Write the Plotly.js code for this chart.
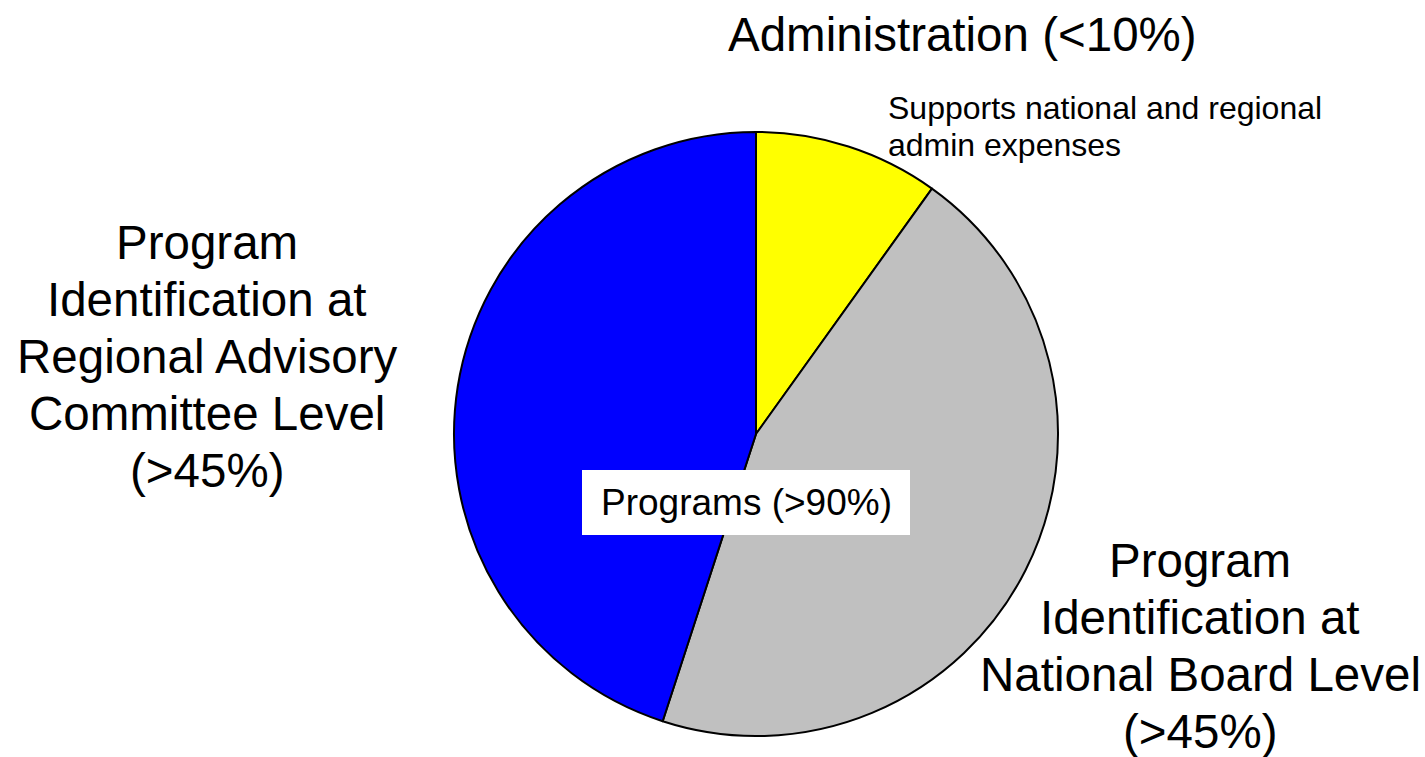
<!DOCTYPE html>
<html>
<head>
<meta charset="utf-8">
<script src="https://cdn.plot.ly/plotly-3.0.1.min.js"></script>
<style>html,body{margin:0;padding:0;background:#fff;}#chart{width:1425px;height:757px;}</style>
</head>
<body>
<div id="chart"></div>
<script>
const categories = ["Administration", "Program Identification at National Board Level", "Program Identification at Regional Advisory Committee Level"];
const shares = [9.9, 45.1, 45.0];
const sliceColors = ["#FFFF00", "#C0C0C0", "#0000FF"];
const adminLines = ["Administration (<10%)"];
const nationalLines = ["Program", "Identification at", "National Board Level", "(>45%)"];
const regionalLines = ["Program", "Identification at", "Regional Advisory", "Committee Level", "(>45%)"];
const noteLines = ["Supports national and regional", "admin expenses"];
const centerText = "Programs (>90%)";

const W = 1425, H = 757;
const px = x => x / W;
const py = y => 1 - y / H;
const FONT = "Liberation Sans, Arial, sans-serif";

function lineAnns(lines, x, yFirst, step, size, anchor) {
  return lines.map((t, i) => ({
    text: t, xref: "paper", yref: "paper",
    x: px(x), y: py(yFirst + i * step),
    xanchor: anchor, yanchor: "middle", align: anchor === "left" ? "left" : "center",
    showarrow: false, font: {size: size, family: FONT, color: "#000"}
  }));
}

const trace = {
  type: "pie",
  labels: categories,
  values: shares,
  sort: false,
  direction: "clockwise",
  rotation: 0,
  textinfo: "none",
  hoverinfo: "label+percent",
  marker: {colors: sliceColors, line: {color: "#000000", width: 2}},
  domain: {x: [px(454), px(1058)], y: [py(736), py(132)]},
  showlegend: false
};

const annotations = []
  .concat(lineAnns(adminLines, 962, 34, 0, 47.5, "center"))
  .concat(lineAnns(noteLines, 886, 108, 37, 32, "left"))
  .concat(lineAnns(regionalLines, 207, 242, 57.2, 47.5, "center"))
  .concat(lineAnns(nationalLines, 1200, 560, 57, 47.5, "center"))
  .concat([{text: centerText, xref: "paper", yref: "paper", x: px(746), y: py(502), xanchor: "center", yanchor: "middle", showarrow: false, font: {size: 37, family: FONT, color: "#000"}}]);

const layout = {
  width: W, height: H,
  margin: {l: 0, r: 0, t: 0, b: 0},
  paper_bgcolor: "#ffffff",
  showlegend: false,
  font: {family: FONT, color: "#000000"},
  shapes: [
    {type: "rect", xref: "paper", yref: "paper", x0: px(582), x1: px(910), y0: py(535), y1: py(470), fillcolor: "#ffffff", line: {width: 0}, layer: "above"}
  ],
  annotations: annotations
};

Plotly.newPlot("chart", [trace], layout, {displayModeBar: false, staticPlot: true});
</script>
</body>
</html>
